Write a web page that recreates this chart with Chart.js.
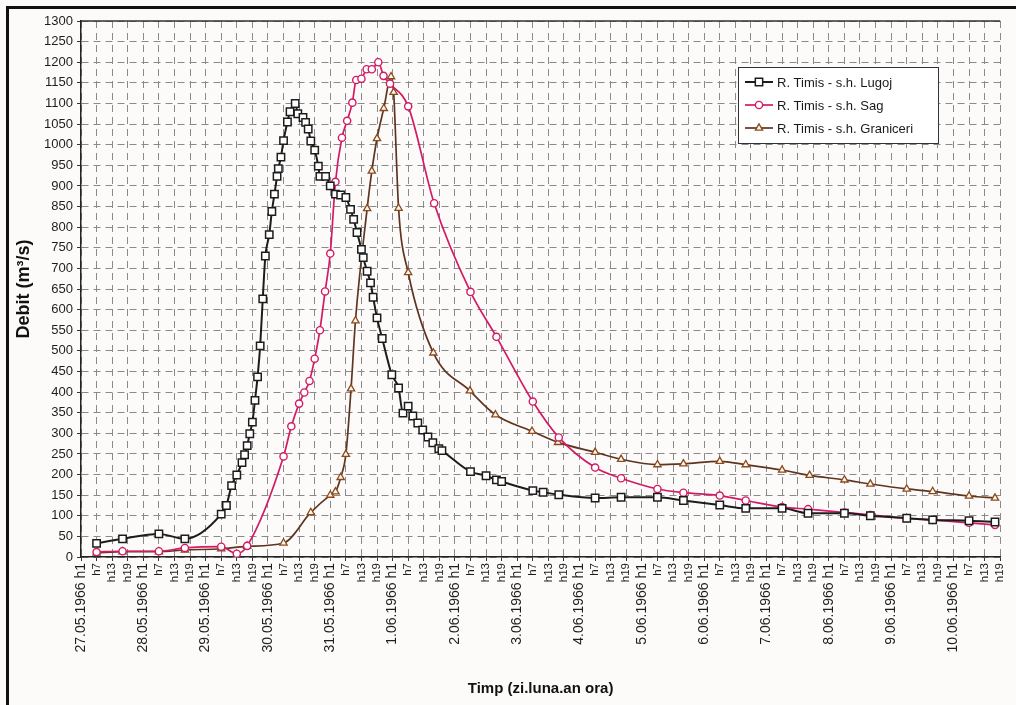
<!DOCTYPE html>
<html>
<head>
<meta charset="utf-8">
<script src="https://cdn.jsdelivr.net/npm/chart.js@4.4.1/dist/chart.umd.min.js"></script>
<style>
html, body { margin: 0; padding: 0; background: #fdfafa; }
#wrap { position: absolute; left: 0; top: 0; width: 1016px; height: 705px; overflow: hidden; }
#frame { position: absolute; left: 6px; top: 6px; width: 1030px; height: 720px; border-left: 3px solid #111; border-top: 3px solid #111; }
canvas { position: absolute; left: 0; top: 0; }
</style>
</head>
<body>
<div id="wrap">
  <div id="frame"></div>
  <canvas id="flowChart" width="1016" height="705"></canvas>
</div>
<script>
// tick labels: one day every 4 ticks (6 h step), hours counted from 27.05.1966 h1
var dayLabels = ['27.05.1966', '28.05.1966', '29.05.1966', '30.05.1966', '31.05.1966',
    '1.06.1966', '2.06.1966', '3.06.1966', '4.06.1966', '5.06.1966',
    '6.06.1966', '7.06.1966', '8.06.1966', '9.06.1966', '10.06.1966'];
var hourLabels = ['h1', 'h7', 'h13', 'h19'];

// R. Timis - s.h. Lugoj
var lugojHours = [6, 16, 30, 40, 54, 56, 58, 60, 62, 63, 64, 65, 66, 67, 68, 69, 70, 71, 72.5, 73.5,
    74.5, 75.5, 76, 77, 78, 79.5, 80.5, 82.5, 83.5, 85.5, 86.5, 87.5, 88.5, 90, 91.4, 92, 94.2, 96, 98, 100,
    102, 103.8, 105, 106.3, 108, 108.7, 110.2, 111.5, 112.5, 114, 116, 119.7, 122.3, 124, 126, 127.8, 129.7, 131.6, 133.6, 135.5,
    137.8, 139, 150, 156, 160, 162, 174, 178, 184, 198, 208, 222, 232, 246, 256, 270, 280, 294, 304, 318,
    328, 342, 352];
var lugojFlow = [33, 44, 56, 44, 104, 125, 173, 199, 229, 248, 270, 299, 327, 380, 437, 512, 626, 730, 782, 838,
    880, 923, 942, 970, 1010, 1055, 1080, 1100, 1075, 1066, 1054, 1038, 1009, 987, 948, 923, 923, 900, 880, 878,
    872, 843, 819, 787, 746, 726, 693, 665, 630, 580, 530, 442, 410, 349, 366, 342, 325, 308, 291, 277,
    263, 258, 207, 197, 187, 183, 161, 157, 151, 143, 145, 145, 137, 126, 118, 118, 106, 106, 100, 94,
    90, 88, 85];

// R. Timis - s.h. Sag
var sagHours = [6, 16, 30, 40, 54, 60, 64, 78, 81, 84, 86, 88, 90, 92, 94, 96, 98, 100.5, 102.5, 104.5,
    106, 108, 110, 112, 114.5, 116.5, 119, 126, 136, 150, 160, 174, 184, 198, 208, 222, 232, 246, 256, 270,
    280, 294, 304, 318, 328, 342, 352];
var sagFlow = [12, 14, 14, 22, 25, 8, 27, 244, 317, 372, 399, 427, 481, 550, 644, 736, 910, 1017, 1058, 1102,
    1157, 1160, 1183, 1183, 1200, 1167, 1148, 1093, 858, 643, 534, 377, 290, 217, 191, 165, 156, 149, 137, 121,
    116, 108, 102, 94, 90, 83, 78];

// R. Timis - s.h. Graniceri
var granHours = [6, 16, 30, 40, 54, 64, 78, 88.5, 96, 98, 100, 102, 104, 105.7, 110.2, 112, 114, 116.6, 119.4, 120.4,
    122.3, 126, 135.7, 149.8, 159.6, 173.7, 183.7, 198, 208, 222, 232, 246, 256, 270, 280.6, 294, 304, 318, 328, 342,
    352];
var granFlow = [10, 13, 13, 17, 20, 26, 34, 108, 150, 158, 193, 249, 408, 573, 845, 936, 1015, 1088, 1165, 1127,
    846, 690, 495, 403, 345, 305, 278, 254, 237, 224, 226, 232, 224, 211, 198, 187, 177, 165, 159, 148,
    143];

var FONT = '"Liberation Sans", Arial, Helvetica, sans-serif';

function toPoints(hours, flow) {
    return hours.map(function(h, i) { return { x: h, y: flow[i] }; });
}

function xLabel(value) {
    var idx = Math.round(value / 6);
    var day = Math.floor(idx / 4);
    var part = idx % 4;
    if (part === 0) return dayLabels[day] + ' ' + hourLabels[0];
    return hourLabels[part];
}

function drawMarker(ctx, style, x, y, r, stroke, fill, lw) {
    ctx.save();
    ctx.beginPath();
    if (style === 'rect') {
        var s = r * Math.SQRT1_2;
        ctx.rect(x - s, y - s, 2 * s, 2 * s);
    } else if (style === 'triangle') {
        ctx.moveTo(x, y - r);
        ctx.lineTo(x + r * 0.866, y + r * 0.5);
        ctx.lineTo(x - r * 0.866, y + r * 0.5);
        ctx.closePath();
    } else {
        ctx.arc(x, y, r, 0, Math.PI * 2);
    }
    ctx.fillStyle = fill;
    ctx.fill();
    ctx.lineWidth = lw;
    ctx.strokeStyle = stroke;
    ctx.stroke();
    ctx.restore();
}

// legend box drawn inside the plot, like the original
var legendBox = {
    id: 'legendBox',
    afterDraw: function(chart) {
        var ctx = chart.ctx;
        var bx = 738, by = 67, bw = 200, bh = 76;
        ctx.save();
        ctx.fillStyle = '#ffffff';
        ctx.fillRect(bx, by, bw, bh);
        ctx.strokeStyle = '#333';
        ctx.lineWidth = 1;
        ctx.strokeRect(bx + 0.5, by + 0.5, bw, bh);
        chart.data.datasets.forEach(function(ds, i) {
            var cy = by + 15 + i * 23;
            ctx.strokeStyle = ds.borderColor;
            ctx.lineWidth = ds.borderWidth;
            ctx.beginPath();
            ctx.moveTo(bx + 7, cy);
            ctx.lineTo(bx + 35, cy);
            ctx.stroke();
            drawMarker(ctx, ds.pointStyle, bx + 21, cy, ds.pointRadius, ds.pointBorderColor, ds.pointBackgroundColor, ds.pointBorderWidth);
            ctx.fillStyle = '#1a1a1a';
            ctx.font = '13px ' + FONT;
            ctx.textBaseline = 'middle';
            ctx.textAlign = 'left';
            ctx.fillText(ds.label, bx + 39, cy + 1);
        });
        ctx.restore();
    }
};

// solid top edge of the plot area
var topEdge = {
    id: 'topEdge',
    beforeDatasetsDraw: function(chart) {
        var a = chart.chartArea, ctx = chart.ctx;
        ctx.save();
        ctx.strokeStyle = '#333';
        ctx.lineWidth = 1.5;
        ctx.beginPath();
        ctx.moveTo(a.left, a.top);
        ctx.lineTo(a.right, a.top);
        ctx.stroke();
        ctx.restore();
    }
};

var gridOpts = { color: '#8a8a8a', lineWidth: 1, tickLength: 4, tickColor: '#333' };
var borderOpts = { display: true, color: '#222', width: 1.5, dash: [7, 5] };

new Chart(document.getElementById('flowChart'), {
    type: 'line',
    data: {
        datasets: [
            {
                label: 'R. Timis - s.h. Lugoj',
                data: toPoints(lugojHours, lugojFlow),
                borderColor: '#1c1c1c',
                borderWidth: 2,
                pointStyle: 'rect',
                pointRadius: 5.2,
                pointBorderColor: '#1c1c1c',
                pointBackgroundColor: '#ffffff',
                pointBorderWidth: 1.5,
                cubicInterpolationMode: 'monotone',
                fill: false
            },
            {
                label: 'R. Timis - s.h. Sag',
                data: toPoints(sagHours, sagFlow),
                borderColor: '#d31a64',
                borderWidth: 1.7,
                pointStyle: 'circle',
                pointRadius: 3.6,
                pointBorderColor: '#d31a64',
                pointBackgroundColor: '#ffffff',
                pointBorderWidth: 1.4,
                cubicInterpolationMode: 'monotone',
                fill: false
            },
            {
                label: 'R. Timis - s.h. Graniceri',
                data: toPoints(granHours, granFlow),
                borderColor: '#5e3520',
                borderWidth: 1.7,
                pointStyle: 'triangle',
                pointRadius: 4.2,
                pointBorderColor: '#8a4a1e',
                pointBackgroundColor: '#fff6ea',
                pointBorderWidth: 1.3,
                cubicInterpolationMode: 'monotone',
                fill: false
            }
        ]
    },
    options: {
        responsive: false,
        animation: false,
        devicePixelRatio: 1,
        layout: { padding: { left: 8, top: 21, right: 12, bottom: 5 } },
        plugins: {
            legend: { display: false },
            tooltip: { enabled: false }
        },
        scales: {
            x: {
                type: 'linear',
                min: 0,
                max: 354,
                grid: gridOpts,
                border: borderOpts,
                ticks: {
                    stepSize: 6,
                    autoSkip: false,
                    maxRotation: 90,
                    minRotation: 90,
                    padding: 2,
                    color: '#1e1e1e',
                    font: function(ctx) {
                        var isDay = ctx && ctx.tick ? Math.round(ctx.tick.value / 6) % 4 === 0 : false;
                        return { family: FONT, size: isDay ? 14 : 11.5 };
                    },
                    callback: function(value) { return xLabel(value); }
                },
                title: {
                    display: true,
                    text: 'Timp (zi.luna.an ora)',
                    color: '#111',
                    font: { family: FONT, size: 15, weight: 'bold' },
                    padding: { top: 4, bottom: 2 }
                },
                afterFit: function(scale) { scale.height = 143; }
            },
            y: {
                min: 0,
                max: 1300,
                grid: gridOpts,
                border: borderOpts,
                ticks: {
                    stepSize: 50,
                    padding: 4,
                    color: '#1e1e1e',
                    font: { family: FONT, size: 13 },
                    callback: function(value) { return String(value); }
                },
                title: {
                    display: true,
                    text: 'Debit (m³/s)',
                    color: '#111',
                    font: { family: FONT, size: 18, weight: 'bold' },
                    padding: { top: 5, bottom: 4 }
                },
                afterFit: function(scale) { scale.width = 73; }
            }
        }
    },
    plugins: [topEdge, legendBox]
});
</script>
</body>
</html>
